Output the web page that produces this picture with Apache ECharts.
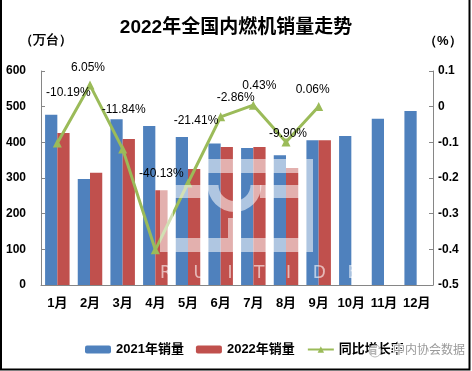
<!DOCTYPE html>
<html><head><meta charset="utf-8">
<script src="https://cdn.jsdelivr.net/npm/echarts@6/dist/echarts.min.js"></script>
<style>html,body{margin:0;padding:0;background:#fff}#c{width:472px;height:371px}</style>
</head><body><div id="c"></div>
<script>
var categories = ['1月','2月','3月','4月','5月','6月','7月','8月','9月','10月','11月','12月'];
var sales2021 = [477, 297, 465, 446, 415, 397, 384, 364, 406, 418, 466, 488];
var sales2022 = [426, 315, 409, 266, 325, 387, 387, 328, 406, null, null, null];
var growth = [-10.19, 6.05, -11.84, -40.13, -21.41, -2.86, 0.43, -9.90, 0.06, null, null, null];
var leftTicks = [0, 100, 200, 300, 400, 500, 600];
var rightTicks = ['-0.5', '-0.4', '-0.3', '-0.2', '-0.1', '0', '0.1'];

var labelOffsets = [[11,-35],[-2,-2],[1,-24],[6,-61],[8,-47],[15,-4],[6,-4],[2,7],[-6,-1]];
var FONT = '"Liberation Sans", "Noto Sans CJK SC", sans-serif';
var W = 'rgba(255,255,255,0.55)';

var chart = echarts.init(document.getElementById('c'), null, {renderer: 'canvas'});
var lineData = growth.map(function (v, i) {
  if (v === null) return '-';
  return {value: v, label: {offset: labelOffsets[i] || [0, 0]}};
});
var axisGray = '#868686';
chart.setOption({
  animation: false,
  backgroundColor: '#fff',
  textStyle: {fontFamily: FONT},
  title: {
    text: '2022年全国内燃机销量走势', left: 'center', top: 13,
    textStyle: {fontSize: 19, fontWeight: 'bold', color: '#000', fontFamily: FONT}
  },
  grid: {left: 41, right: 39, top: 71, bottom: 86},
  legend: {
    left: 80, top: 338, itemWidth: 26, itemHeight: 8, itemGap: 12,
    textStyle: {fontSize: 13, fontWeight: 'bold', color: '#000', fontFamily: FONT},
    data: ['2021年销量', '2022年销量', '同比增长率']
  },
  xAxis: {
    type: 'category', data: categories,
    axisLine: {lineStyle: {color: axisGray}},
    axisTick: {inside: true, length: 4, lineStyle: {color: axisGray}},
    axisLabel: {fontSize: 13, fontWeight: 'bold', color: '#000', margin: 12, interval: 0}
  },
  yAxis: [{
    type: 'value', min: leftTicks[0], max: leftTicks[leftTicks.length - 1], interval: 100,
    axisLine: {show: true, lineStyle: {color: axisGray}},
    axisTick: {show: true, inside: true, length: 4, lineStyle: {color: axisGray}},
    splitLine: {show: false},
    axisLabel: {fontSize: 12, fontWeight: 'bold', color: '#000', margin: 15}
  }, {
    type: 'value', min: -50, max: 10, interval: 10, position: 'right',
    axisLine: {show: true, lineStyle: {color: axisGray}},
    axisTick: {show: true, inside: true, length: 4, lineStyle: {color: axisGray}},
    splitLine: {show: false},
    axisLabel: {fontSize: 12, fontWeight: 'bold', color: '#000', margin: 5,
      formatter: function (v) { return rightTicks[Math.round((v + 50) / 10)]; }}
  }],
  series: [{
    name: '2021年销量', type: 'bar', data: sales2021, barGap: 0, barCategoryGap: '25%',
    itemStyle: {color: '#4F81BD'}
  }, {
    name: '2022年销量', type: 'bar', data: sales2022,
    itemStyle: {color: '#C0504D'}
  }, {
    name: '同比增长率', type: 'line', yAxisIndex: 1, data: lineData,
    symbol: 'triangle', symbolSize: 9,
    lineStyle: {color: '#9BBB59', width: 3},
    itemStyle: {color: '#9BBB59'},
    label: {show: true, position: 'top', fontSize: 12, color: '#000', fontFamily: FONT,
      formatter: function (p) { return p.value.toFixed(2) + '%'; }},
    z: 5
  }],
  graphic: [
    {type: 'polyline', z: 200, silent: true, shape: {points: [[1, 0], [1, 369.5], [469.5, 369.5], [469.5, 0]]},
     style: {stroke: '#000', lineWidth: 2, fill: null}},
    {type: 'text', left: 20, top: 34, z: 200, style: {text: '（万台）', fontSize: 13, fontWeight: 'bold', fill: '#000', font: 'bold 13px ' + FONT}},
    {type: 'text', left: 424, top: 35, z: 200, style: {text: '（%）', fontSize: 13, fontWeight: 'bold', fill: '#000', font: 'bold 13px ' + FONT}},
    // watermark logo
    {type: 'rect', z: 150, silent: true, shape: {x: 205, y: 159, width: 108, height: 14}, style: {fill: W}},
    {type: 'rect', z: 150, silent: true, shape: {x: 300, y: 173, width: 13, height: 79}, style: {fill: W}},
    {type: 'rect', z: 150, silent: true, shape: {x: 160, y: 185, width: 48, height: 13}, style: {fill: W}},
    {type: 'rect', z: 150, silent: true, shape: {x: 260, y: 185, width: 40, height: 13}, style: {fill: W}},
    {type: 'rect', z: 150, silent: true, shape: {x: 160, y: 198, width: 13, height: 54}, style: {fill: W}},
    {type: 'rect', z: 150, silent: true, shape: {x: 173, y: 238, width: 127, height: 14}, style: {fill: W}},
    {type: 'rect', z: 150, silent: true, shape: {x: 228, y: 218, width: 13, height: 20}, style: {fill: W}},
    {type: 'sector', z: 150, silent: true, shape: {cx: 234.5, cy: 185, r: 27, r0: 16, startAngle: 0, endAngle: Math.PI, clockwise: true}, style: {fill: W}},
    {type: 'text', z: 150, silent: true, x: 160, y: 265, style: {text: 'R    U    I    T    I    D    E', font: '17px "DejaVu Sans", sans-serif', fill: 'rgba(255,255,255,0.6)'}},
    // bottom-right watermark
    {type: 'circle', z: 210, silent: true, shape: {cx: 375, cy: 351, r: 6}, style: {fill: 'rgba(255,255,255,0.7)', stroke: '#bbb', lineWidth: 1}},
    {type: 'text', z: 210, silent: true, x: 393, y: 343, style: {text: '中内协会数据', font: '12px "Noto Sans CJK SC", sans-serif', fill: '#9a9a9a', stroke: '#fff', lineWidth: 2}}
  ]
});
</script></body></html>
